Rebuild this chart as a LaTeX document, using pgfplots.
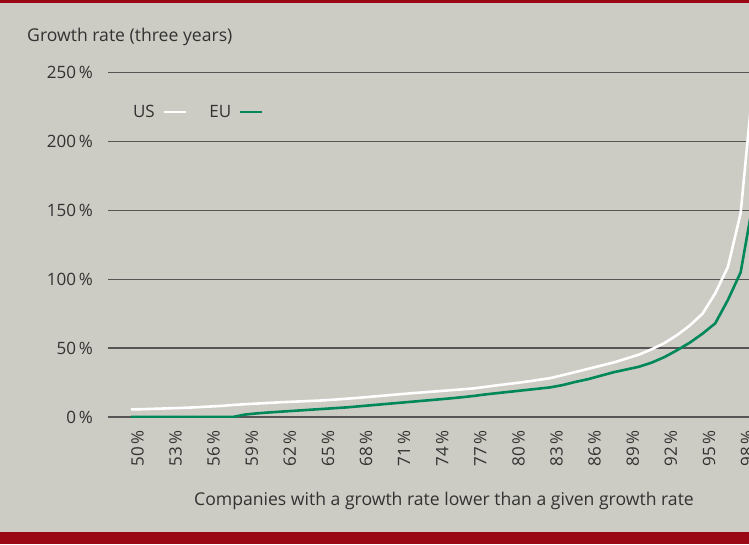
\documentclass[border=0pt]{standalone}
\usepackage{fontspec}
\setmainfont{Open Sans}
\usepackage{pgfplots}
\pgfplotsset{compat=1.18}

\definecolor{bg}{RGB}{204,203,196}
\definecolor{barred}{RGB}{154,8,22}
\definecolor{eugreen}{RGB}{0,135,90}
\definecolor{gridgrey}{RGB}{85,85,85}
\definecolor{textgrey}{RGB}{50,50,50}

% growth rate (three years) by percentile of companies
\pgfplotstableread{
pct us eu
50 5.5 0
51 5.7 0
52 6.0 0
53 6.3 0
54 6.6 0
55 7.0 0
56 7.5 0
57 8.0 0
58 8.7 0
59 9.3 1.8
60 9.8 2.7
61 10.3 3.4
62 10.8 4.0
63 11.2 4.6
64 11.6 5.2
65 12.0 5.8
66 12.6 6.4
67 13.3 7.0
68 14.0 7.8
69 14.8 8.6
70 15.6 9.4
71 16.4 10.2
72 17.2 11.0
73 17.9 11.8
74 18.6 12.6
75 19.3 13.4
76 20.0 14.3
77 20.8 15.3
78 22.0 16.5
79 23.2 17.5
80 24.3 18.5
81 25.5 19.5
82 26.8 20.5
83 28.2 21.5
84 30.4 23.2
85 32.7 25.5
86 35.0 27.5
87 37.3 30.0
88 39.6 32.5
89 42.4 34.5
90 45.3 36.5
91 49.2 39.5
92 53.7 43.5
93 59.5 48.5
94 66.5 54.0
95 75.0 60.5
96 89.8 68.0
97 109 85.0
98 148 105
99 244 157
}\growth

\begin{document}
\begin{tikzpicture}[x=1pt,y=1pt]
\fill[bg] (0,0) rectangle (749,544);
\fill[barred] (0,541) rectangle (749,544);
\fill[barred] (0,0) rectangle (749,12.3);

\begin{axis}[
    at={(108pt,127pt)}, anchor=south west,
    width=641pt, height=344.3pt, scale only axis,
    xmin=48.19, xmax=98.66,
    ymin=0, ymax=250,
    axis line style={draw=none},
    tick style={draw=none},
    ytick={0,50,...,250},
    xtick={50,53,...,98},
    ymajorgrids,
    grid style={gridgrey, line width=1.3pt},
    /pgf/number format/assume math mode=true,
    yticklabel={\pgfmathprintnumber{\tick}\,\%},
    xticklabel={\pgfmathprintnumber{\tick}\,\%},
    ticklabel style={font=\fontsize{17}{20}\selectfont, text=textgrey, inner sep=0pt},
    yticklabel style={anchor=east},
    yticklabel shift=15pt,
    xticklabel style={rotate=90, anchor=north east},
    xticklabel shift=13pt,
    legend columns=2,
    legend plot pos=right,
    legend image code/.code={\draw[#1] (0pt,0pt) -- (22pt,0pt);},
    legend style={draw=none, fill=none, inner sep=0pt, outer sep=0pt,
        at={(axis description cs:0.0390,0.886)}, anchor=west,
        font=\fontsize{17}{20}\selectfont, text=textgrey,
        nodes={inner sep=0pt},
        /tikz/every odd column/.append style={column sep=8pt},
        /tikz/every even column/.append style={column sep=22pt}},
]
\addplot[white, line width=2.6pt, line join=round] table[x=pct, y=us] {\growth};
\addlegendentry{US}
\addplot[eugreen, line width=2.6pt, line join=round] table[x=pct, y=eu] {\growth};
\addlegendentry{EU}
\end{axis}

\node[anchor=base west, inner sep=0pt, text=textgrey, font=\fontsize{17.6}{21}\selectfont]
    at (27,502.3) {Growth rate (three years)};
\node[anchor=base, inner sep=0pt, text=textgrey, font=\fontsize{17.6}{21}\selectfont]
    at (444,38.5) {Companies with a growth rate lower than a given growth rate};

\pgfresetboundingbox
\path (0,0) rectangle (749,544);
\end{tikzpicture}
\end{document}
